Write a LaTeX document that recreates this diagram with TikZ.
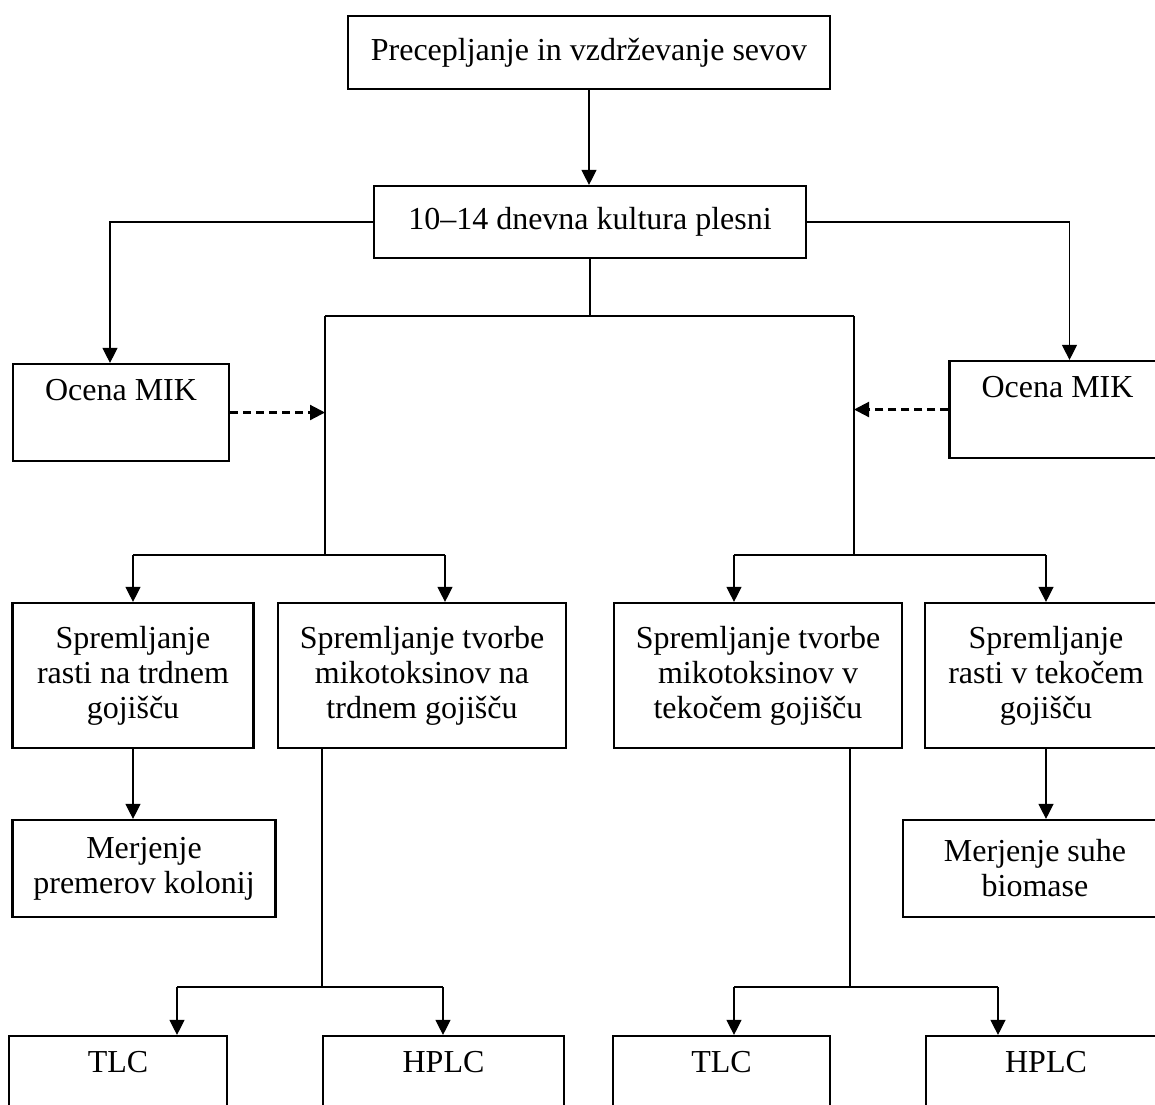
\documentclass[tikz,border=0pt]{standalone}
\usepackage{fontspec}
\setmainfont{Liberation Serif}
\usepackage{tikz}
\usetikzlibrary{arrows.meta}

\begin{document}
\begin{tikzpicture}[
  x=0.5pt, y=-0.5pt,
  box/.style={rectangle, draw=black, line width=1.1pt, inner sep=0pt,
              align=center, font=\fontsize{16}{17.5}\selectfont},
  mikbox/.style={box, minimum width=108pt, minimum height=48.5pt},
  rowbox/.style={box, minimum height=72.5pt},
  lowbox/.style={box, minimum height=48.5pt},
  ln/.style={line width=0.6pt},
  ar/.style={-{Triangle[length=7.5pt, width=7.5pt]}, line width=0.6pt},
  dar/.style={ar, line width=1.1pt, dash pattern=on 4pt off 2.5pt}
]
  \useasboundingbox (0,0) rectangle (1155,1104);
  \clip (0,0) rectangle (1155,1104);

  \node[box, minimum width=241pt, minimum height=36.5pt] (prec) at (589,52.5) {Precepljanje in vzdrževanje sevov};
  \node[box, minimum width=216pt, minimum height=36pt]   (kult) at (590,222)  {10–14 dnevna kultura plesni};

  \node[mikbox] (mikL) at (121,412.5)  {Ocena MIK\\\strut};
  \node[mikbox] (mikR) at (1057.5,409.5) {Ocena MIK\\\strut};

  \node[rowbox, minimum width=120.5pt] (rastT) at (133,675.5)  {Spremljanje\\rasti na trdnem\\gojišču};
  \node[rowbox, minimum width=144pt]   (tvoT)  at (422,675.5)  {Spremljanje tvorbe\\mikotoksinov na\\trdnem gojišču};
  \node[rowbox, minimum width=144pt]   (tvoK)  at (758,675.5)  {Spremljanje tvorbe\\mikotoksinov v\\tekočem gojišču};
  \node[rowbox, minimum width=121pt]   (rastK) at (1046,675.5) {Spremljanje\\rasti v tekočem\\gojišču};

  \node[lowbox, minimum width=131.5pt] (merK) at (144,868.5)  {Merjenje\\premerov kolonij};
  \node[lowbox, minimum width=132pt]   (merB) at (1035,868.5) {Merjenje suhe\\biomase};

  \node[lowbox, minimum width=109pt]   (tlcT)  at (118,1084.5)   {TLC\\\strut};
  \node[lowbox, minimum width=120.5pt] (hplcT) at (443.5,1084.5) {HPLC\\\strut};
  \node[lowbox, minimum width=108.5pt] (tlcK)  at (721.5,1084.5) {TLC\\\strut};
  \node[lowbox, minimum width=120pt]   (hplcK) at (1046,1084.5)  {HPLC\\\strut};

  \coordinate (jTop) at (590,316);
  \coordinate (jL)   at (325,316);
  \coordinate (jR)   at (854,316);
  \coordinate (sLa)  at (133,555);
  \coordinate (sLb)  at (445,555);
  \coordinate (sRa)  at (734,555);
  \coordinate (sRb)  at (1046,555);
  \coordinate (tL)   at (322,987);
  \coordinate (tLa)  at (177,987);
  \coordinate (tLb)  at (443,987);
  \coordinate (tR)   at (850,987);
  \coordinate (tRa)  at (734,987);
  \coordinate (tRb)  at (998,987);

  \draw[ar] (prec.south) -- (prec.south |- kult.north);
  \draw[ar] (kult.west) -| ([xshift=-5.5pt]mikL.north);
  \draw[ar] (kult.east) -| ([xshift=6pt]mikR.north);

  \draw[ln] (kult.south) -- (jTop);
  \draw[ln] (jL) -- (jR);
  \draw[ln] (jL) -- (jL |- sLa);
  \draw[ln] (jR) -- (jR |- sRa);
  \draw[dar] (mikL.east) -- (mikL.east -| jL);
  \draw[dar] (mikR.west) -- (mikR.west -| jR);

  \draw[ln] (sLa) -- (sLb);
  \draw[ar] (sLa) -- (rastT.north);
  \draw[ar] (sLb) -- (sLb |- tvoT.north);
  \draw[ln] (sRa) -- (sRb);
  \draw[ar] (sRa) -- (sRa |- tvoK.north);
  \draw[ar] (sRb) -- (rastK.north);

  \draw[ar] (rastT.south) -- (rastT.south |- merK.north);
  \draw[ar] (rastK.south) -- (rastK.south |- merB.north);

  \draw[ln] (tL |- tvoT.south) -- (tL);
  \draw[ln] (tLa) -- (tLb);
  \draw[ar] (tLa) -- (tLa |- tlcT.north);
  \draw[ar] (tLb) -- (tLb |- hplcT.north);
  \draw[ln] (tR |- tvoK.south) -- (tR);
  \draw[ln] (tRa) -- (tRb);
  \draw[ar] (tRa) -- (tRa |- tlcK.north);
  \draw[ar] (tRb) -- (tRb |- hplcK.north);
\end{tikzpicture}
\end{document}
